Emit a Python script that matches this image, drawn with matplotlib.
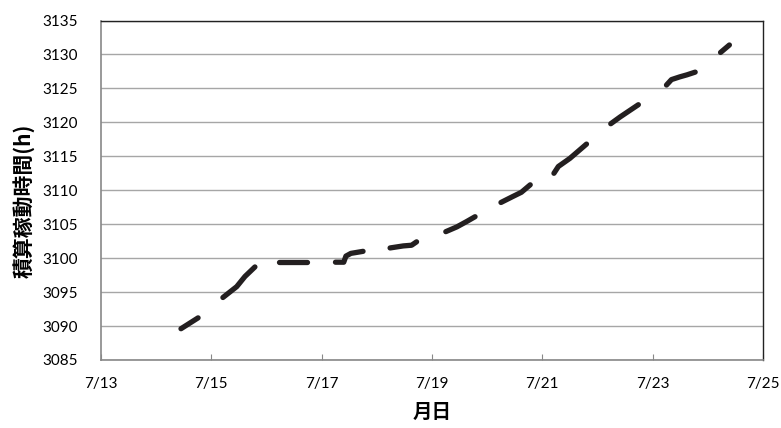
import matplotlib.pyplot as plt

plt.rcParams['font.family'] = ['Lato', 'Noto Sans CJK JP', 'DejaVu Sans']

# each segment: times as day of July (fractional), values in hours
seg_days = [
    [14.45, 14.76],
    [15.21, 15.46, 15.61, 15.79],
    [16.23, 16.73],
    [17.25, 17.40, 17.44, 17.53, 17.75],
    [18.24, 18.48, 18.63, 18.72],
    [19.25, 19.45, 19.63, 19.78],
    [20.25, 20.47, 20.62, 20.78],
    [21.21, 21.29, 21.50, 21.80],
    [22.24, 22.41, 22.74],
    [23.25, 23.34, 23.49, 23.62, 23.77],
    [24.23, 24.39],
]
seg_hours = [
    [3089.6, 3091.2],
    [3094.2, 3095.8, 3097.3, 3098.7],
    [3099.4, 3099.4],
    [3099.4, 3099.4, 3100.3, 3100.7, 3101.0],
    [3101.5, 3101.8, 3101.9, 3102.4],
    [3103.9, 3104.6, 3105.4, 3106.1],
    [3108.2, 3109.1, 3109.7, 3110.8],
    [3112.5, 3113.5, 3114.7, 3116.8],
    [3119.8, 3120.8, 3122.6],
    [3125.5, 3126.3, 3126.7, 3127.0, 3127.4],
    [3130.3, 3131.4],
]
x_ticks = [13, 15, 17, 19, 21, 23, 25]
x_labels = ['7/13', '7/15', '7/17', '7/19', '7/21', '7/23', '7/25']
y_ticks = list(range(3085, 3136, 5))

fig = plt.figure(figsize=(7.81, 4.28), dpi=100)
ax = fig.add_axes([0.1293, 0.159, 0.8477, 0.793])

for d, h in zip(seg_days, seg_hours):
    ax.plot(d, h, color='#231f20', lw=3.8, solid_capstyle='round',
            solid_joinstyle='round')

ax.set_xlim(13, 25)
ax.set_ylim(3085, 3135)
ax.set_xticks(x_ticks)
ax.set_xticklabels(x_labels)
ax.set_yticks(y_ticks)
ax.yaxis.grid(True, color='#a6a6a6', lw=1.0)
ax.set_axisbelow(True)

ax.tick_params(axis='x', direction='in', length=4, color='#888888',
               labelsize=11, pad=12)
ax.tick_params(axis='y', length=0, labelsize=11, pad=17)

for s in ['left', 'bottom']:
    ax.spines[s].set_color('#888888')
    ax.spines[s].set_linewidth(1.2)
for s in ['top', 'right']:
    ax.spines[s].set_color('#222222')
    ax.spines[s].set_linewidth(1.0)

ax.set_ylabel('積算稼動時間(h)', family=['Noto Sans CJK JP', 'DejaVu Sans'],
              fontsize=15, fontweight='bold')
ax.yaxis.set_label_coords(-0.1, 0.47)
ax.set_xlabel('月日', family=['Noto Sans CJK JP', 'DejaVu Sans'],
              fontsize=14, fontweight='bold', labelpad=9)

fig.savefig('out.png', dpi=100)
